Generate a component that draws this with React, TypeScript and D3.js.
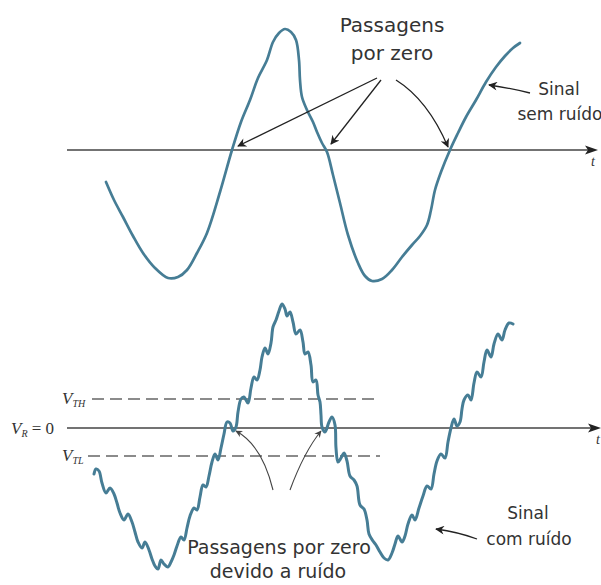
import React from "react";
import * as d3 from "d3";

// Clean signal: [time, amplitude]
const cleanSignal: [number, number][] = [
  [46, -32], [54, -50], [63, -67], [73, -86], [83, -103], [95, -118], [108, -128],
  [118, -127], [127, -120], [137, -103], [147, -83], [160, -42], [172, 0], [181, 28],
  [190, 50], [198, 72], [207, 90], [213, 108], [219, 117], [225, 121], [231, 118],
  [236, 110], [239, 90], [240, 70], [242, 53], [247, 40], [253, 28], [257, 18],
  [262, 7], [267, -2], [273, -25], [280, -53], [288, -85], [298, -113], [305, -126],
  [312, -131], [322, -129], [332, -120], [342, -107], [352, -95], [360, -86],
  [367, -75], [371, -60], [375, -40], [381, -22], [390, 0], [398, 17], [406, 33],
  [416, 50], [426, 68], [436, 83], [445, 94], [453, 102], [460, 107],
];

// Signal with superimposed noise: [time, amplitude]
const noisySignal: [number, number][] = [
  [34, -46], [36, -41], [39, -43], [42, -55], [46, -65], [50, -60], [54, -66],
  [57, -75], [60, -85], [64, -92], [68, -86], [72, -94], [75, -104], [78, -114],
  [82, -120], [85, -114], [89, -122], [92, -131], [95, -138], [98, -141], [101, -132],
  [104, -136], [108, -139], [111, -134], [114, -127], [117, -118], [121, -109],
  [124, -112], [127, -100], [130, -88], [134, -80], [137, -82], [140, -69], [143, -57],
  [146, -59], [149, -48], [152, -34], [155, -26], [158, -32], [161, -20], [164, -6],
  [167, 6], [170, 5], [173, -3], [176, 1], [178, 16], [181, 29], [184, 31], [188, 25],
  [191, 40], [194, 51], [197, 48], [200, 58], [202, 71], [205, 80], [208, 74],
  [211, 85], [213, 101], [216, 108], [219, 117], [222, 124], [225, 119], [227, 112],
  [230, 116], [233, 106], [236, 94], [240, 98], [243, 86], [245, 74], [248, 76],
  [251, 63], [253, 46], [256, 48], [258, 33], [260, 26], [261, 13], [262, 1],
  [265, -4], [269, 6], [272, 11], [275, 3], [276, -20], [278, -34], [281, -30],
  [284, -25], [287, -33], [290, -48], [294, -52], [297, -58], [300, -77], [304, -81],
  [307, -92], [309, -106], [313, -113], [316, -117], [320, -124], [324, -130],
  [328, -132], [332, -125], [335, -116], [338, -108], [342, -114], [345, -108],
  [348, -96], [352, -87], [355, -92], [359, -80], [363, -68], [367, -58], [371, -61],
  [374, -46], [377, -33], [381, -26], [385, -30], [388, -14], [391, 0], [394, 9],
  [397, 2], [400, 6], [402, 19], [404, 28], [408, 33], [411, 28], [414, 45],
  [417, 56], [421, 51], [424, 66], [427, 78], [431, 71], [434, 84], [438, 94],
  [442, 88], [445, 98], [449, 105], [453, 104],
];

// Zero crossings pointed at by the annotations
const cleanCrossings = [172, 267, 390];
const noisyCrossings = [176, 262];

// Hysteresis thresholds
const thresholdNames = ["TH", "TL"];
const thresholdLevels = [29, -28];
const thresholdStarts = [32, 28];
const thresholdEnd = 320;

const SIGNAL = "#467d95";
const INK = "#333";
const AXIS = "#444";

export default function App() {
  const x = d3.scaleLinear().domain([0, 540]).range([60, 600]);
  const yTop = d3.scaleLinear().domain([-130, 130]).range([280, 20]);
  const yBot = d3.scaleLinear().domain([-130, 130]).range([558, 298]);

  const lineTop = d3
    .line<[number, number]>()
    .x((d) => x(d[0]))
    .y((d) => yTop(d[1]))
    .curve(d3.curveCatmullRom.alpha(0.5));
  const lineBot = d3
    .line<[number, number]>()
    .x((d) => x(d[0]))
    .y((d) => yBot(d[1]))
    .curve(d3.curveCatmullRom.alpha(0.5));

  const y0Top = yTop(0);
  const y0Bot = yBot(0);
  const axisStart = x(7);

  const axisHead = (tipX: number, y: number) =>
    `M${tipX},${y} L${tipX - 13},${y - 4.5} L${tipX - 10},${y} L${tipX - 13},${y + 4.5} Z`;

  const font = "'DejaVu Sans', sans-serif";
  const serif = "'Liberation Serif', 'DejaVu Serif', serif";

  // tips of the annotation arrows, next to the crossings
  const c1 = x(cleanCrossings[0]);
  const c2 = x(cleanCrossings[1]);
  const c3 = x(cleanCrossings[2]);
  const n1 = x(noisyCrossings[0]);
  const n2 = x(noisyCrossings[1]);

  return (
    <svg
      width={601}
      height={585}
      style={{ position: "absolute", left: 0, top: 0, background: "#fff" }}
    >
      <defs>
        <marker
          id="head"
          viewBox="0 0 10 10"
          refX="9"
          refY="5"
          markerWidth="11"
          markerHeight="9"
          markerUnits="userSpaceOnUse"
          orient="auto"
        >
          <path d="M0,0 L10,5 L0,10 L3,5 Z" fill="#222" />
        </marker>
        <marker
          id="headSmall"
          viewBox="0 0 10 10"
          refX="9"
          refY="5"
          markerWidth="8"
          markerHeight="7"
          markerUnits="userSpaceOnUse"
          orient="auto"
        >
          <path d="M0,0 L10,5 L0,10 L3,5 Z" fill="#444" />
        </marker>
      </defs>

      {/* upper panel: clean signal */}
      <line x1={axisStart} x2={590} y1={y0Top} y2={y0Top} stroke={AXIS} strokeWidth={1.6} />
      <path d={axisHead(598, y0Top)} fill="#222" />
      <text x={591} y={166} fontFamily={serif} fontStyle="italic" fontSize={14} fill={INK}>
        t
      </text>
      <path d={lineTop(cleanSignal) ?? ""} fill="none" stroke={SIGNAL} strokeWidth={2.7} strokeLinecap="round" />

      <text x={392} y={32} textAnchor="middle" fontFamily={font} fontSize={20} fill={INK}>
        Passagens
      </text>
      <text x={392} y={60} textAnchor="middle" fontFamily={font} fontSize={20} fill={INK}>
        por zero
      </text>
      <g stroke="#222" strokeWidth={1.3} fill="none">
        <path d={`M377,78 L${c1 + 6},${y0Top - 4}`} markerEnd="url(#head)" />
        <path d={`M381,80 L${c2 + 4},${y0Top - 6}`} markerEnd="url(#head)" />
        <path d={`M396,80 Q428,100 ${c3 - 2},${y0Top - 3}`} markerEnd="url(#head)" />
        <path d="M530,93 Q510,88 489,85" markerEnd="url(#head)" />
      </g>
      <text x={559} y={95} textAnchor="middle" fontFamily={font} fontSize={17} fill={INK}>
        Sinal
      </text>
      <text x={560} y={120} textAnchor="middle" fontFamily={font} fontSize={17} fill={INK}>
        sem ruído
      </text>

      {/* lower panel: noisy signal with thresholds */}
      <line x1={axisStart} x2={592} y1={y0Bot} y2={y0Bot} stroke={AXIS} strokeWidth={1.6} />
      <path d={axisHead(601, y0Bot)} fill="#222" />
      <text x={596} y={444} fontFamily={serif} fontStyle="italic" fontSize={14} fill={INK}>
        t
      </text>
      {thresholdLevels.map((lvl, i) => (
        <g key={thresholdNames[i]}>
          <line
            x1={x(thresholdStarts[i])}
            x2={x(thresholdEnd)}
            y1={yBot(lvl)}
            y2={yBot(lvl)}
            stroke="#666"
            strokeWidth={1.5}
            strokeDasharray="12 6"
          />
          <text x={62} y={yBot(lvl) + 5} fontFamily={serif} fontStyle="italic" fontSize={17} fill={INK}>
            V
            <tspan fontSize={10} dy={3}>
              {thresholdNames[i]}
            </tspan>
          </text>
        </g>
      ))}
      <text x={11} y={y0Bot + 6} fontFamily={serif} fontSize={17} fill={INK}>
        <tspan fontStyle="italic">V</tspan>
        <tspan fontStyle="italic" fontSize={10} dy={3}>
          R
        </tspan>
        <tspan dy={-3}> = 0</tspan>
      </text>
      <path d={lineBot(noisySignal) ?? ""} fill="none" stroke={SIGNAL} strokeWidth={3} strokeLinecap="round" />

      <g stroke="#444" strokeWidth={1.1} fill="none">
        <path d={`M273,490 Q262,445 ${n1},${y0Bot + 3}`} markerEnd="url(#headSmall)" />
        <path d={`M290,490 Q304,452 ${n2 - 1},${y0Bot + 3}`} markerEnd="url(#headSmall)" />
        <path d="M477,539 Q458,532 436,529" stroke="#222" strokeWidth={1.3} markerEnd="url(#head)" />
      </g>
      <text x={279} y={554} textAnchor="middle" fontFamily={font} fontSize={19} fill={INK}>
        Passagens por zero
      </text>
      <text x={278} y={578} textAnchor="middle" fontFamily={font} fontSize={19} fill={INK}>
        devido a ruído
      </text>
      <text x={528} y={519} textAnchor="middle" fontFamily={font} fontSize={17} fill={INK}>
        Sinal
      </text>
      <text x={529} y={545} textAnchor="middle" fontFamily={font} fontSize={17} fill={INK}>
        com ruído
      </text>
    </svg>
  );
}
